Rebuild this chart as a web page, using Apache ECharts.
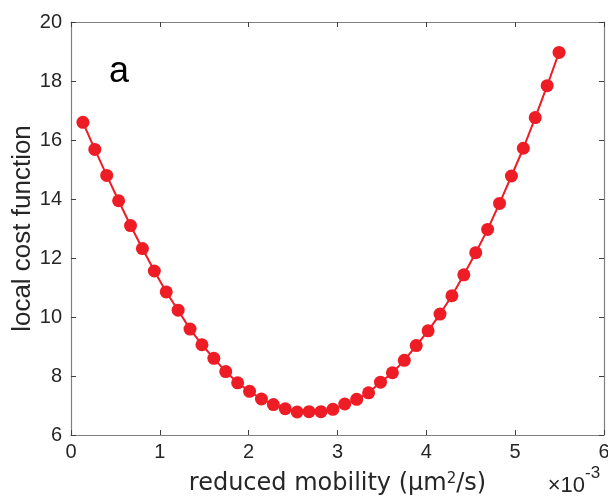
<!DOCTYPE html>
<html>
<head>
<meta charset="utf-8">
<script src="https://cdn.jsdelivr.net/npm/echarts@6/dist/echarts.min.js"></script>
<style>
html,body{margin:0;padding:0;background:#fff;}
#chart{width:608px;height:499px;}
</style>
</head>
<body>
<div id="chart"></div>
<script>
// reduced mobility (units of 1e-3 µm²/s)
var mobility = [0.134, 0.268, 0.402, 0.536, 0.670, 0.804, 0.938, 1.072, 1.206, 1.340,
  1.474, 1.608, 1.742, 1.876, 2.010, 2.144, 2.278, 2.412, 2.546, 2.680,
  2.814, 2.948, 3.082, 3.216, 3.350, 3.484, 3.618, 3.752, 3.886, 4.020,
  4.154, 4.288, 4.422, 4.556, 4.690, 4.824, 4.958, 5.092, 5.226, 5.360, 5.494];
// local cost function
var cost = [16.60, 15.68, 14.80, 13.94, 13.10, 12.32, 11.56, 10.85, 10.23, 9.59,
  9.06, 8.60, 8.15, 7.77, 7.48, 7.22, 7.03, 6.89, 6.78, 6.79,
  6.79, 6.87, 7.05, 7.21, 7.43, 7.79, 8.11, 8.53, 9.03, 9.53,
  10.10, 10.72, 11.43, 12.18, 12.97, 13.85, 14.78, 15.72, 16.76, 17.84, 18.97];
var xTicks = [0, 1, 2, 3, 4, 5, 6];
var yTicks = [6, 8, 10, 12, 14, 16, 18, 20];
var xLabelMain = 'reduced mobility (μm';
var xLabelSup = '2';
var xLabelEnd = '/s)';
var yLabel = 'local cost function';
var panelLabel = 'a';
var multBase = '×10';
var multExp = '-3';

var font = '"Liberation Sans", Arial, Helvetica, sans-serif';
var dejavu = '"DejaVu Sans", sans-serif';
var pts = mobility.map(function (x, i) { return [x, cost[i]]; });

var axisLineStyle = { color: '#808080', width: 1.2 };
var tickStyle = { show: true, inside: true, length: 5, lineStyle: { color: '#404040', width: 1 } };

var chart = echarts.init(document.getElementById('chart'), null, { renderer: 'canvas' });
chart.setOption({
  animation: false,
  backgroundColor: '#ffffff',
  grid: { left: 71, right: 4, top: 22, bottom: 64, containLabel: false, outerBoundsMode: 'none' },
  xAxis: [{
    type: 'value', position: 'bottom',
    min: xTicks[0], max: xTicks[xTicks.length - 1], interval: 1,
    axisLine: { show: true, onZero: false, lineStyle: axisLineStyle },
    axisTick: tickStyle,
    splitLine: { show: false },
    axisLabel: { color: '#262626', fontSize: 20, fontFamily: font, margin: 7 },
    name: '{n|' + xLabelMain + '}{s|' + xLabelSup + '}{n|' + xLabelEnd + '}',
    nameLocation: 'middle', nameGap: 37, nameMoveOverlap: false,
    nameTextStyle: {
      color: '#262626', fontSize: 24, fontFamily: dejavu,
      rich: {
        n: { fontSize: 24, fontFamily: dejavu, color: '#262626' },
        s: { fontSize: 15, fontFamily: dejavu, color: '#262626', verticalAlign: 'top', padding: [0, 0, 9, 0] }
      }
    }
  }, {
    type: 'value', position: 'top',
    min: xTicks[0], max: xTicks[xTicks.length - 1], interval: 1,
    axisLine: { show: true, onZero: false, lineStyle: axisLineStyle },
    axisTick: tickStyle,
    splitLine: { show: false },
    axisLabel: { show: false }
  }],
  yAxis: [{
    type: 'value', position: 'left',
    min: yTicks[0], max: yTicks[yTicks.length - 1], interval: 2,
    axisLine: { show: true, onZero: false, lineStyle: axisLineStyle },
    axisTick: tickStyle,
    splitLine: { show: false },
    axisLabel: { color: '#262626', fontSize: 20, fontFamily: font, margin: 9 },
    name: yLabel, nameLocation: 'middle', nameGap: 35, nameRotate: 90, nameMoveOverlap: false,
    nameTextStyle: { color: '#262626', fontSize: 26, fontFamily: font }
  }, {
    type: 'value', position: 'right',
    min: yTicks[0], max: yTicks[yTicks.length - 1], interval: 2,
    axisLine: { show: true, onZero: false, lineStyle: axisLineStyle },
    axisTick: tickStyle,
    splitLine: { show: false },
    axisLabel: { show: false }
  }],
  graphic: [{
    type: 'text', x: 109, y: 72,
    style: { text: panelLabel, font: '36px ' + font, fill: '#000', align: 'left', verticalAlign: 'middle' }
  }, {
    type: 'text', x: 585, y: 486,
    style: { text: multBase, font: '22px ' + font, fill: '#262626', align: 'right', verticalAlign: 'middle' }
  }, {
    type: 'text', x: 585, y: 473,
    style: { text: multExp, font: '17px ' + font, fill: '#262626', align: 'left', verticalAlign: 'middle' }
  }],
  series: [{
    type: 'line',
    xAxisIndex: 0, yAxisIndex: 0,
    data: pts,
    symbol: 'circle', symbolSize: 13,
    itemStyle: { color: '#ee1c25' },
    lineStyle: { color: '#ee1c25', width: 2 }
  }]
});
</script>
</body>
</html>
